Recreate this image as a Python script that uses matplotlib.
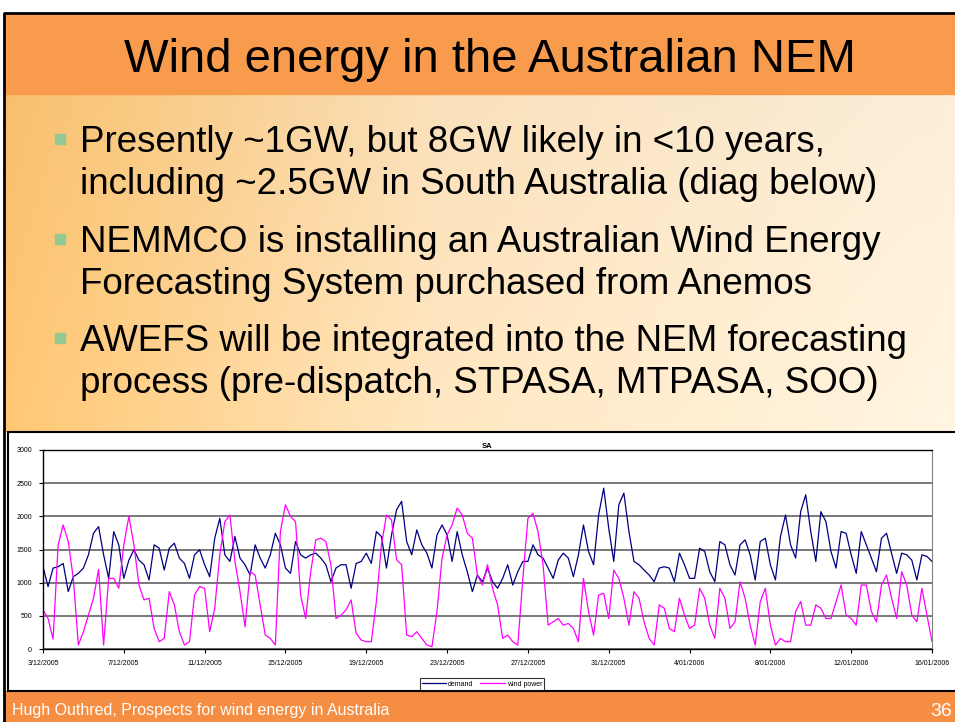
import matplotlib
matplotlib.use("Agg")
import matplotlib.pyplot as plt
import numpy as np
import pandas as pd
from matplotlib.patches import Rectangle

plt.rcParams["font.family"] = ["Liberation Sans", "DejaVu Sans"]

W, H = 955, 722

TITLE = "Wind energy in the Australian NEM"
BULLETS = [
    ["Presently ~1GW, but 8GW likely in <10 years,",
     "including ~2.5GW in South Australia (diag below)"],
    ["NEMMCO is installing an Australian Wind Energy",
     "Forecasting System purchased from Anemos"],
    ["AWEFS will be integrated into the NEM forecasting",
     "process (pre-dispatch, STPASA, MTPASA, SOO)"],
]
FOOTER = "Hugh Outhred, Prospects for wind energy in Australia"
PAGE = "36"

START = "2005-12-03"
DEMAND = [
    1240, 940, 1220, 1240, 1290, 865, 1090, 1140, 1220, 1420, 1745, 1845,
    1420, 1065, 1770, 1570, 1065, 1340, 1495, 1340, 1270, 1040, 1570, 1520,
    1190, 1520, 1595, 1370, 1290, 1065, 1420, 1495, 1270, 1090, 1670, 1970,
    1420, 1320, 1695, 1370, 1270, 1115, 1570, 1370, 1220, 1420, 1745, 1570,
    1220, 1140, 1620, 1420, 1370, 1420, 1445, 1370, 1270, 1015, 1220, 1270,
    1270, 915, 1290, 1320, 1445, 1290, 1770, 1695, 1220, 1720, 2100, 2225,
    1620, 1420, 1795, 1570, 1445, 1220, 1720, 1870, 1720, 1320, 1770, 1420,
    1165, 865, 1115, 1015, 1220, 1015, 915, 1065, 1270, 965, 1165, 1320,
    1320, 1570, 1420, 1370, 1220, 1065, 1340, 1445, 1370, 1090, 1420, 1870,
    1470, 1270, 2020, 2425, 1820, 1320, 2175, 2350, 1770, 1320, 1270, 1190,
    1115, 1015, 1220, 1240, 1220, 1015, 1445, 1270, 1065, 1065, 1520, 1470,
    1165, 1015, 1620, 1570, 1270, 1115, 1570, 1645, 1420, 1040, 1620, 1670,
    1270, 1040, 1695, 2020, 1570, 1370, 2070, 2325, 1770, 1320, 2070, 1920,
    1470, 1220, 1770, 1745, 1420, 1140, 1770, 1570, 1370, 1165, 1670, 1745,
    1445, 1140, 1445, 1420, 1340, 1040, 1420, 1395, 1320,
]
WIND = [
    590, 460, 150, 1570, 1870, 1620, 1065, 60, 260, 510, 765, 1200,
    60, 1065, 1065, 915, 1570, 2000, 1570, 965, 740, 765, 310, 110,
    160, 865, 665, 260, 60, 110, 815, 940, 915, 260, 615, 1420,
    1920, 2020, 1320, 865, 335, 1165, 1115, 665, 210, 160, 60, 1770,
    2175, 2000, 1920, 815, 460, 1165, 1645, 1670, 1620, 1270, 460, 510,
    590, 740, 235, 135, 110, 110, 715, 1570, 2020, 1945, 1345, 1270,
    210, 185, 260, 160, 60, 35, 565, 1370, 1720, 1870, 2125, 2020,
    1745, 1670, 1115, 965, 1270, 915, 665, 160, 210, 110, 60, 1065,
    1970, 2045, 1770, 1270, 360, 410, 460, 360, 385, 310, 110, 1065,
    565, 210, 815, 840, 460, 1190, 1065, 765, 360, 865, 765, 410,
    160, 60, 665, 615, 310, 260, 765, 510, 310, 360, 915, 765,
    360, 160, 915, 765, 310, 410, 1015, 765, 360, 60, 715, 915,
    360, 60, 160, 110, 110, 565, 715, 360, 360, 665, 615, 460,
    460, 715, 965, 510, 460, 360, 965, 965, 565, 410, 965, 1115,
    765, 460, 1165, 965, 510, 410, 915, 510, 110,
]
TICK_DATES = ["2005-12-03", "2005-12-07", "2005-12-11", "2005-12-15",
              "2005-12-19", "2005-12-23", "2005-12-27", "2005-12-31",
              "2006-01-04", "2006-01-08", "2006-01-12", "2006-01-16"]
TICK_LABELS = ["3/12/2005", "7/12/2005", "11/12/2005", "15/12/2005",
               "19/12/2005", "23/12/2005", "27/12/2005", "31/12/2005",
               "4/01/2006", "8/01/2006", "12/01/2006", "16/01/2006"]
Y_TICKS = [0, 500, 1000, 1500, 2000, 2500, 3000]


def slide_background(fig):
    bg = fig.add_axes([0, 0, 1, 1])
    bg.set_xlim(0, W)
    bg.set_ylim(H, 0)
    bg.axis("off")

    # body gradient (orange at left fading to cream at right)
    xs = np.linspace(0, 1, 300)
    ys = np.linspace(0, 1, 100)
    left = np.array([252, 196, 112]) / 255
    mid = np.array([254, 228, 190]) / 255
    right = np.array([255, 242, 222]) / 255
    t = xs[None, :, None]
    grad = np.where(t < 0.45, left + (mid - left) * (t / 0.45),
                    mid + (right - mid) * ((t - 0.45) / 0.55))
    grad = grad + 0.03 * (ys[:, None, None] - 0.5)
    grad = np.clip(grad, 0, 1)
    bg.imshow(grad, extent=(4, W, 432, 94), aspect="auto", zorder=0)

    bg.add_patch(Rectangle((4, 13), W, 81, color="#F89B4C", zorder=1))
    bg.add_patch(Rectangle((4, 691), W, 31, color="#F58D42", zorder=1))
    bg.plot([4, 4, W], [H, 13, 13], color="black", lw=2, zorder=3)

    bg.text(490, 72, TITLE, fontsize=34, ha="center", va="baseline", zorder=2)

    line_y = [[152, 194], [252, 294], [351, 393]]
    for lines, ys_ in zip(BULLETS, line_y):
        bg.add_patch(Rectangle((55, ys_[0] - 18), 10, 10, color="#93C993", zorder=2))
        for text, y in zip(lines, ys_):
            bg.text(80, y, text, fontsize=26.5, ha="left", va="baseline", zorder=2)

    bg.text(12, 715, FOOTER, fontsize=11.5, color="white", ha="left",
            va="baseline", zorder=2)
    bg.text(952, 716, PAGE, fontsize=14, color="white", ha="right",
            va="baseline", zorder=2)

    # white chart frame
    bg.add_patch(Rectangle((8, 432), W, 259, facecolor="white",
                           edgecolor="black", lw=1.5, zorder=2))
    return bg


def plot_chart(fig):
    times = pd.date_range(START, periods=len(DEMAND), freq="6h")
    ax = fig.add_axes([43 / W, 1 - 649 / H, (932 - 43) / W, (649 - 450) / H])
    ax.set_facecolor("white")
    ax.plot(times, DEMAND, color="#000080", lw=0.9, label="demand")
    ax.plot(times, WIND, color="#FF00FF", lw=0.9, label="wind power")

    ticks = pd.to_datetime(TICK_DATES)
    ax.set_xlim(ticks[0], ticks[-1])
    ax.set_xticks(ticks)
    ax.set_xticklabels(TICK_LABELS, fontsize=5)
    ax.set_ylim(0, 3000)
    ax.set_yticks(Y_TICKS)
    ax.set_yticklabels([str(v) for v in Y_TICKS], fontsize=5)
    ax.tick_params(length=3, width=0.8, pad=5)
    ax.yaxis.grid(True, color="#555555", lw=1.1)
    ax.set_axisbelow(True)
    for side in ["left", "bottom", "top"]:
        ax.spines[side].set_color("black")
        ax.spines[side].set_linewidth(1)
    ax.spines["right"].set_color("#808080")

    ax.set_title("SA", fontsize=5.5, fontweight="bold", pad=1.5)
    leg = ax.legend(loc="center", bbox_to_anchor=(482 / W, 1 - 684 / H),
                    bbox_transform=fig.transFigure, ncol=2, fontsize=5,
                    frameon=True, fancybox=False, handlelength=3.5,
                    handletextpad=0.3, columnspacing=1.0, borderpad=0.3)
    leg.get_frame().set_edgecolor("black")
    leg.get_frame().set_linewidth(0.8)
    return ax


fig = plt.figure(figsize=(W / 100, H / 100), dpi=100)
slide_background(fig)
plot_chart(fig)
fig.savefig("out.png", dpi=100)
